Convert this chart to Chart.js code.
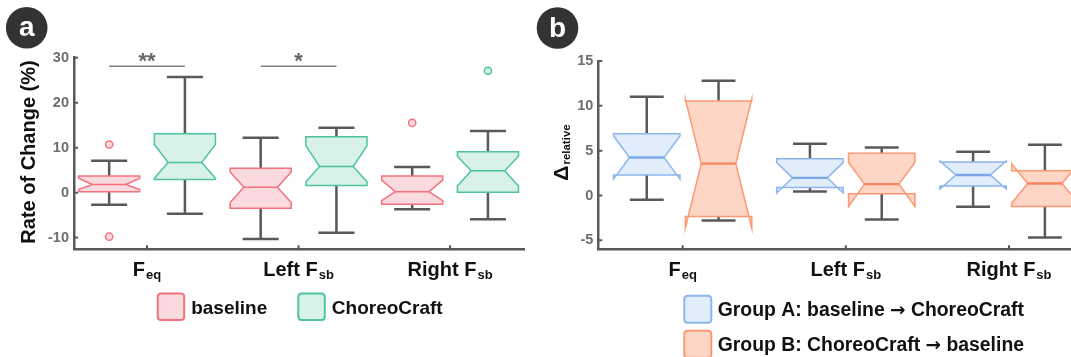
<!DOCTYPE html>
<html>
<head>
<meta charset="utf-8">
<script src="https://cdn.jsdelivr.net/npm/chart.js@4.4.1/dist/chart.umd.min.js"></script>
<style>
  html, body { margin: 0; padding: 0; background: #ffffff; }
  #wrap { position: relative; width: 1071px; height: 357px; overflow: hidden; }
  #pa { position: absolute; left: 0; top: 0; }
  #pb { position: absolute; left: 530px; top: 0; }
</style>
</head>
<body>
<div id="wrap">
  <canvas id="pa" width="530" height="357"></canvas>
  <canvas id="pb" width="541" height="357"></canvas>
</div>
<script>
// ---- categories (main label + subscript) ----
const categoryNames = ['F', 'Left F', 'Right F'];
const categorySubs = ['eq', 'sb', 'sb'];

// ---- panel a: rate of change (%) ----
const yTicksA = [-10, 0, 10, 20, 30];
const baselineQ1 = [0.2, -3.5, -2.6];
const baselineMedian = [1.8, 1.2, 0.2];
const baselineQ3 = [3.7, 5.4, 3.7];
const baselineNotchLo = [0.7, -2.2, -1.8];
const baselineNotchHi = [3.2, 4.6, 2.8];
const baselineWhiskerLo = [-2.7, -10.3, -3.7];
const baselineWhiskerHi = [7.1, 12.2, 5.7];
const baselineOutliers = [[10.7, -9.8], [], [15.5]];

const choreoQ1 = [2.9, 1.6, 0.1];
const choreoMedian = [6.7, 5.8, 4.85];
const choreoQ3 = [13.1, 12.4, 9.1];
const choreoNotchLo = [3.2, 2.4, 1.45];
const choreoNotchHi = [10.7, 10.4, 8.1];
const choreoWhiskerLo = [-4.7, -8.9, -5.9];
const choreoWhiskerHi = [25.7, 14.4, 13.7];
const choreoOutliers = [[], [], [27.1]];

// significance marks: category index, label, height of bracket
const sigCategory = [0, 1];
const sigLabel = ['**', '*'];
const sigLevel = [28.1, 28.1];

// ---- panel b: relative delta ----
const yTicksB = [-5, 0, 5, 10, 15];
const groupAQ1 = [2.3, 0.89, 1.05];
const groupAMedian = [4.23, 1.97, 2.28];
const groupAQ3 = [6.88, 4.1, 3.73];
const groupANotchLo = [1.83, 0.27, 0.71];
const groupANotchHi = [6.63, 3.67, 3.85];
const groupAWhiskerLo = [-0.48, 0.45, -1.26];
const groupAWhiskerHi = [11.0, 5.76, 4.88];

const groupBQ1 = [-2.34, 0.19, -1.23];
const groupBMedian = [3.56, 1.27, 1.34];
const groupBQ3 = [10.55, 4.72, 2.76];
const groupBNotchLo = [-3.63, -1.23, -0.86];
const groupBNotchHi = [10.75, 3.68, 3.54];
const groupBWhiskerLo = [-2.79, -2.68, -4.69];
const groupBWhiskerHi = [12.8, 5.36, 5.66];

const FONT = "'Liberation Sans', Arial, Helvetica, sans-serif";
const ARROW_FONT = "'DejaVu Sans', 'Liberation Sans', sans-serif";
const WHISKER = '#595959';
const AXIS = '#595959';
const TICK_TEXT = '#6e6e6e';

function series(name, offset, q1, med, q3, nLo, nHi, wLo, wHi, outliers, fill, stroke, medianColor) {
  return { name, offset, q1, med, q3, nLo, nHi, wLo, wHi, outliers, fill, stroke, medianColor };
}

const panelA = {
  badge: 'a',
  series: [
    series(['baseline'], -0.25, baselineQ1, baselineMedian, baselineQ3, baselineNotchLo, baselineNotchHi,
      baselineWhiskerLo, baselineWhiskerHi, baselineOutliers, '#fbdadf', '#f2717d', '#f2717d'),
    series(['ChoreoCraft'], 0.25, choreoQ1, choreoMedian, choreoQ3, choreoNotchLo, choreoNotchHi,
      choreoWhiskerLo, choreoWhiskerHi, choreoOutliers, '#d8f1e9', '#4dc3a2', '#4dc3a2')
  ],
  boxWidth: 0.403, notchRatio: 0.55, capRatio: 0.59, medianWidth: 1.6
};

const panelB = {
  badge: 'b',
  series: [
    series(['Group A: baseline', 'ChoreoCraft'], -0.22, groupAQ1, groupAMedian, groupAQ3, groupANotchLo, groupANotchHi,
      groupAWhiskerLo, groupAWhiskerHi, [[], [], []], '#e2edfc', '#8cb5ee', '#7ca8ea'),
    series(['Group B: ChoreoCraft', 'baseline'], 0.22, groupBQ1, groupBMedian, groupBQ3, groupBNotchLo, groupBNotchHi,
      groupBWhiskerLo, groupBWhiskerHi, [[], [], []], '#fdd6c6', '#fc9873', '#f7845c')
  ],
  boxWidth: 0.407, notchRatio: 0.52, capRatio: 0.51, medianWidth: 2.4
};

// Draw "main" followed by a lowered subscript, centred on x or starting at x.
function drawSubText(ctx, main, sub, x, baseline, mainPx, subPx, subDrop, align) {
  ctx.font = `bold ${mainPx}px ${FONT}`;
  const wMain = ctx.measureText(main).width;
  ctx.font = `bold ${subPx}px ${FONT}`;
  const wSub = ctx.measureText(sub).width;
  const total = wMain + 1 + wSub;
  const start = align === 'center' ? x - total / 2 : x;
  ctx.textAlign = 'left';
  ctx.textBaseline = 'alphabetic';
  ctx.font = `bold ${mainPx}px ${FONT}`;
  ctx.fillText(main, start, baseline);
  ctx.font = `bold ${subPx}px ${FONT}`;
  ctx.fillText(sub, start + wMain + 1, baseline + subDrop);
}

// Legend entry text; parts are joined with an arrow.
function drawLegendText(ctx, parts, x, baseline, px) {
  ctx.textAlign = 'left';
  ctx.textBaseline = 'alphabetic';
  let cx = x;
  parts.forEach((p, k) => {
    ctx.font = `bold ${px}px ${FONT}`;
    ctx.fillText(p, cx, baseline);
    cx += ctx.measureText(p).width;
    if (k < parts.length - 1) {
      cx += ctx.measureText(' ').width;
      ctx.font = `bold ${px * 0.95}px ${ARROW_FONT}`;
      ctx.fillText('\u2192', cx, baseline);
      cx += ctx.measureText('\u2192').width;
      ctx.font = `bold ${px}px ${FONT}`;
      cx += ctx.measureText(' ').width;
    }
  });
}

function roundRect(ctx, x, y, w, h, r) {
  ctx.beginPath();
  ctx.moveTo(x + r, y);
  ctx.lineTo(x + w - r, y);
  ctx.quadraticCurveTo(x + w, y, x + w, y + r);
  ctx.lineTo(x + w, y + h - r);
  ctx.quadraticCurveTo(x + w, y + h, x + w - r, y + h);
  ctx.lineTo(x + r, y + h);
  ctx.quadraticCurveTo(x, y + h, x, y + h - r);
  ctx.lineTo(x, y + r);
  ctx.quadraticCurveTo(x, y, x + r, y);
  ctx.closePath();
}

function drawBadge(ctx, letter, cx, cy) {
  ctx.save();
  ctx.fillStyle = '#333333';
  ctx.beginPath();
  ctx.arc(cx, cy, 20.8, 0, Math.PI * 2);
  ctx.fill();
  ctx.fillStyle = '#ffffff';
  ctx.font = `bold 28px ${FONT}`;
  ctx.textAlign = 'center';
  ctx.textBaseline = 'middle';
  ctx.fillText(letter, cx, cy + 1);
  ctx.restore();
}

// Notched box plots drawn through the chart's own scales.
function notchedBoxPlugin(panel, extras) {
  return {
    id: 'notchedBoxes' + panel.badge,
    afterDatasetsDraw(chart) {
      const { ctx, scales: { x, y } } = chart;
      const unit = x.getPixelForValue(1) - x.getPixelForValue(0);
      const hw = panel.boxWidth * unit / 2;
      const nw = hw * panel.notchRatio;
      const cw = hw * panel.capRatio;
      const py = v => y.getPixelForValue(v);
      ctx.save();
      panel.series.forEach(s => {
        s.q1.forEach((_, i) => {
          const cx = x.getPixelForValue(i + 1 + s.offset);
          // whiskers and caps
          ctx.strokeStyle = WHISKER;
          ctx.lineWidth = 2.5;
          ctx.lineCap = 'butt';
          ctx.beginPath();
          ctx.moveTo(cx, py(s.q3[i])); ctx.lineTo(cx, py(s.wHi[i]));
          ctx.moveTo(cx - cw, py(s.wHi[i])); ctx.lineTo(cx + cw, py(s.wHi[i]));
          ctx.moveTo(cx, py(s.q1[i])); ctx.lineTo(cx, py(s.wLo[i]));
          ctx.moveTo(cx - cw, py(s.wLo[i])); ctx.lineTo(cx + cw, py(s.wLo[i]));
          ctx.stroke();
          // notched box outline
          const xl = cx - hw, xr = cx + hw, xli = cx - nw, xri = cx + nw;
          ctx.beginPath();
          ctx.moveTo(xl, py(s.q1[i]));
          ctx.lineTo(xl, py(s.nLo[i]));
          ctx.lineTo(xli, py(s.med[i]));
          ctx.lineTo(xl, py(s.nHi[i]));
          ctx.lineTo(xl, py(s.q3[i]));
          ctx.lineTo(xr, py(s.q3[i]));
          ctx.lineTo(xr, py(s.nHi[i]));
          ctx.lineTo(xri, py(s.med[i]));
          ctx.lineTo(xr, py(s.nLo[i]));
          ctx.lineTo(xr, py(s.q1[i]));
          ctx.closePath();
          ctx.fillStyle = s.fill;
          ctx.fill();
          ctx.strokeStyle = s.stroke;
          ctx.lineWidth = 1.5;
          ctx.lineJoin = 'miter';
          ctx.stroke();
          // median
          ctx.strokeStyle = s.medianColor;
          ctx.lineWidth = panel.medianWidth;
          ctx.beginPath();
          ctx.moveTo(xli, py(s.med[i]));
          ctx.lineTo(xri, py(s.med[i]));
          ctx.stroke();
        });
      });
      ctx.restore();
    },
    afterDraw(chart) {
      const { ctx, chartArea, scales: { x, y } } = chart;
      ctx.save();
      // inward tick marks
      ctx.strokeStyle = AXIS;
      ctx.lineWidth = 2;
      ctx.beginPath();
      y.ticks.forEach(t => {
        const p = y.getPixelForValue(t.value);
        ctx.moveTo(chartArea.left, p); ctx.lineTo(chartArea.left + 4, p);
      });
      categoryNames.forEach((_, i) => {
        const px = x.getPixelForValue(i + 1);
        ctx.moveTo(px, chartArea.bottom); ctx.lineTo(px, chartArea.bottom - 4);
      });
      ctx.stroke();
      // category labels
      ctx.fillStyle = '#111111';
      categoryNames.forEach((name, i) => {
        drawSubText(ctx, name, categorySubs[i], x.getPixelForValue(i + 1), 276, 20, 13, 2.5, 'center');
      });
      extras(chart, ctx);
      ctx.restore();
    }
  };
}

function outlierDatasets(panel) {
  return panel.series.map(s => ({
    label: s.name.join(' '),
    data: s.outliers.flatMap((vals, i) => vals.map(v => ({ x: i + 1 + s.offset, y: v }))),
    pointRadius: 3.6,
    pointBorderWidth: 1.5,
    pointBackgroundColor: s.fill,
    pointBorderColor: s.stroke,
    showLine: false
  }));
}

function baseOptions(opts) {
  return {
    responsive: false,
    animation: false,
    devicePixelRatio: 1,
    layout: { padding: opts.padding },
    plugins: { legend: { display: false }, tooltip: { enabled: false } },
    scales: {
      x: {
        type: 'linear', min: opts.xMin, max: opts.xMax,
        ticks: { display: false },
        grid: { display: false, drawTicks: false },
        border: { display: true, color: AXIS, width: 2.5 },
        afterFit: s => { s.height = opts.xHeight; }
      },
      y: {
        type: 'linear', min: opts.yMin, max: opts.yMax,
        ticks: {
          stepSize: opts.step, includeBounds: false, padding: 5,
          color: TICK_TEXT, font: { family: FONT, size: 14.5, weight: 'bold' }
        },
        grid: { display: false, drawTicks: false },
        border: { display: true, color: AXIS, width: 2.5 },
        afterFit: s => { s.width = opts.yWidth; }
      }
    }
  };
}

// ---------- panel a ----------
new Chart(document.getElementById('pa'), {
  type: 'scatter',
  data: { datasets: outlierDatasets(panelA) },
  options: baseOptions({
    padding: { top: 57.7, right: 6, bottom: 0, left: 0 },
    xMin: 0.518, xMax: 3.488, xHeight: 107.7,
    yMin: -12.6, yMax: 30, step: 10, yWidth: 74
  }),
  plugins: [notchedBoxPlugin(panelA, (chart, ctx) => {
    const { scales: { x, y } } = chart;
    // significance brackets
    sigCategory.forEach((c, k) => {
      const x1 = x.getPixelForValue(c + 1 + panelA.series[0].offset);
      const x2 = x.getPixelForValue(c + 1 + panelA.series[1].offset);
      const p = y.getPixelForValue(sigLevel[k]);
      ctx.strokeStyle = '#808080';
      ctx.lineWidth = 1.5;
      ctx.beginPath(); ctx.moveTo(x1, p); ctx.lineTo(x2, p); ctx.stroke();
      ctx.fillStyle = '#666666';
      ctx.font = `bold 22px ${FONT}`;
      ctx.textAlign = 'center';
      ctx.textBaseline = 'alphabetic';
      ctx.fillText(sigLabel[k], (x1 + x2) / 2, p + 1.5);
    });
    // y title
    ctx.save();
    ctx.translate(35, 152);
    ctx.rotate(-Math.PI / 2);
    ctx.fillStyle = '#111111';
    ctx.font = `bold 20px ${FONT}`;
    ctx.textAlign = 'center';
    ctx.textBaseline = 'alphabetic';
    ctx.fillText('Rate of Change (%)', 0, 0);
    ctx.restore();
    // legend
    const legendX = [157.7, 298.3];
    panelA.series.forEach((s, k) => {
      roundRect(ctx, legendX[k], 293.5, 26.5, 26.5, 3.5);
      ctx.fillStyle = s.fill; ctx.fill();
      ctx.strokeStyle = s.stroke; ctx.lineWidth = 2; ctx.stroke();
      ctx.fillStyle = '#111111';
      drawLegendText(ctx, s.name, legendX[k] + 33.5, 313.5, 19);
    });
    drawBadge(ctx, panelA.badge, 26.7, 27.7);
  })]
});

// ---------- panel b ----------
new Chart(document.getElementById('pb'), {
  type: 'scatter',
  data: { datasets: outlierDatasets(panelB) },
  options: baseOptions({
    padding: { top: 61, right: 0, bottom: 0, left: 0 },
    xMin: 0.483, xMax: 3.38, xHeight: 107.7,
    yMin: -6, yMax: 15, step: 5, yWidth: 68.3
  }),
  plugins: [notchedBoxPlugin(panelB, (chart, ctx) => {
    // y title: Delta with subscript
    ctx.save();
    ctx.translate(38.3, 152.5);
    ctx.rotate(-Math.PI / 2);
    ctx.fillStyle = '#111111';
    ctx.font = `bold 21px ${FONT}`;
    const wD = ctx.measureText('\u0394').width;
    ctx.font = `bold 11.5px ${FONT}`;
    const wR = ctx.measureText('relative').width;
    const start = -(wD + 1 + wR) / 2;
    drawSubText(ctx, '\u0394', 'relative', start, 0, 21, 11.5, 2, 'left');
    ctx.restore();
    // legend
    panelB.series.forEach((s, k) => {
      const ty = 295.7 + k * 35;
      roundRect(ctx, 154.3, ty, 27, 27, 3.5);
      ctx.fillStyle = s.fill; ctx.fill();
      ctx.strokeStyle = s.stroke; ctx.lineWidth = 2; ctx.stroke();
      ctx.fillStyle = '#111111';
      drawLegendText(ctx, s.name, 187.7, ty + 20.3, 19.4);
    });
    drawBadge(ctx, panelB.badge, 27.5, 28);
  })]
});
</script>
</body>
</html>
